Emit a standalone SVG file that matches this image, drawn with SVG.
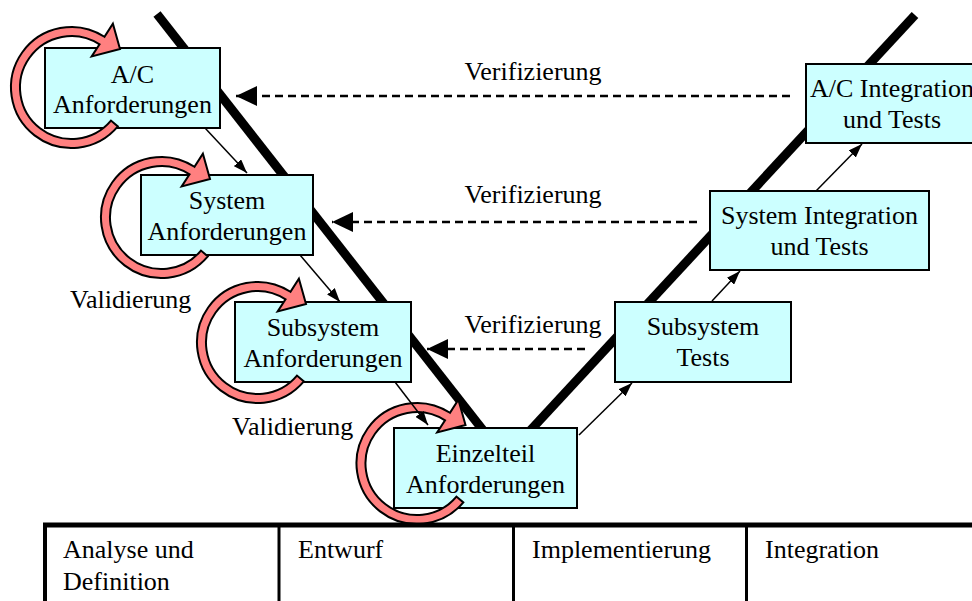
<svg xmlns="http://www.w3.org/2000/svg" width="972" height="601" viewBox="0 0 972 601">
  <style>
    .lbl { font-family: 'Liberation Serif', 'Times New Roman', serif; font-size: 26px; fill: #000; }
    .mid { text-anchor: middle; }
    .box { fill: #CCFFFF; stroke: #000; stroke-width: 2; }
    .vee { stroke: #000; stroke-width: 9; stroke-linecap: butt; fill: none; }
    .loop { fill: #FF8080; stroke: #000; stroke-width: 2; stroke-linejoin: miter; }
    .flow { stroke: #000; stroke-width: 1.5; fill: none; marker-end: url(#ah); }
    .verif { stroke: #000; stroke-width: 2.5; stroke-dasharray: 8 5; fill: none; marker-end: url(#dh); }
    .grid { stroke: #000; fill: none; }
  </style>
  <defs>
    <marker id="ah" markerWidth="14" markerHeight="10" refX="14" refY="5" orient="auto" markerUnits="userSpaceOnUse">
      <path d="M0,0 L14,5 L0,10 z" fill="#000"/>
    </marker>
    <marker id="dh" markerWidth="21" markerHeight="20" refX="21" refY="10" orient="auto" markerUnits="userSpaceOnUse">
      <path d="M0,0 L21,10 L0,20 z" fill="#000"/>
    </marker>
    <!-- circular validation arrow, centred on (0,0) -->
    <path id="loop" class="loop" d="M46.35,38.89 A60.5,60.5 0 1 1 32.95,-50.74 L41.39,-63.74 L48.5,-38.5 L20.15,-31.03 L28.05,-43.19 A51.5,51.5 0 1 0 39.45,33.10 Z"/>
  </defs>

  <!-- the V -->
  <g id="vee">
    <line class="vee" x1="157" y1="14" x2="486" y2="434"/>
    <line class="vee" x1="915" y1="15" x2="527" y2="434"/>
  </g>

  <!-- requirement nodes (left branch) -->
  <g id="ac-req">
    <rect class="box" x="45" y="48" width="175" height="80"/>
    <text class="lbl mid" x="132.5" y="83">A/C</text>
    <text class="lbl mid" x="132.5" y="113">Anforderungen</text>
  </g>
  <g id="sys-req">
    <rect class="box" x="141" y="175" width="172" height="80"/>
    <text class="lbl mid" x="227" y="209">System</text>
    <text class="lbl mid" x="227" y="240">Anforderungen</text>
  </g>
  <g id="sub-req">
    <rect class="box" x="235" y="302" width="176" height="80"/>
    <text class="lbl mid" x="323" y="336">Subsystem</text>
    <text class="lbl mid" x="323" y="367">Anforderungen</text>
  </g>
  <g id="part-req">
    <rect class="box" x="394" y="428" width="183" height="80"/>
    <text class="lbl mid" x="485.5" y="462">Einzelteil</text>
    <text class="lbl mid" x="485.5" y="493">Anforderungen</text>
  </g>

  <!-- integration nodes (right branch) -->
  <g id="sub-test">
    <rect class="box" x="615" y="302" width="176" height="80"/>
    <text class="lbl mid" x="703" y="335">Subsystem</text>
    <text class="lbl mid" x="703" y="366">Tests</text>
  </g>
  <g id="sys-int">
    <rect class="box" x="710" y="191" width="219" height="79"/>
    <text class="lbl mid" x="819.5" y="224">System Integration</text>
    <text class="lbl mid" x="819.5" y="255">und Tests</text>
  </g>
  <g id="ac-int">
    <rect class="box" x="806" y="64" width="172" height="79"/>
    <text class="lbl mid" x="892" y="97">A/C Integration</text>
    <text class="lbl mid" x="892" y="128">und Tests</text>
  </g>

  <!-- validation loops -->
  <g id="loops">
    <use href="#loop" x="71.5" y="87.5"/>
    <use href="#loop" x="161.5" y="217.5"/>
    <use href="#loop" x="257.5" y="342.5"/>
    <use href="#loop" x="417" y="463.5"/>
  </g>

  <!-- connectors -->
  <g id="connectors">
    <line class="flow" x1="205" y1="128" x2="247" y2="173"/>
    <line class="flow" x1="300" y1="255" x2="340" y2="302"/>
    <line class="flow" x1="395" y1="382" x2="428" y2="425"/>
    <line class="flow" x1="579" y1="435" x2="632" y2="383"/>
    <line class="flow" x1="712" y1="301" x2="740" y2="271"/>
    <line class="flow" x1="816" y1="191" x2="862" y2="144"/>
    <line class="verif" x1="790" y1="96" x2="236" y2="96"/>
    <line class="verif" x1="697" y1="222" x2="332" y2="222"/>
    <line class="verif" x1="585" y1="349" x2="427" y2="349"/>
  </g>

  <!-- labels -->
  <g id="labels">
    <text class="lbl mid" x="533" y="80">Verifizierung</text>
    <text class="lbl mid" x="533" y="203">Verifizierung</text>
    <text class="lbl mid" x="533" y="333">Verifizierung</text>
    <text class="lbl" x="70" y="308">Validierung</text>
    <text class="lbl" x="232" y="435">Validierung</text>
  </g>

  <!-- phase table -->
  <g id="phases">
    <line class="grid" x1="43" y1="525" x2="972" y2="525" stroke-width="5"/>
    <line class="grid" x1="45" y1="523" x2="45" y2="601" stroke-width="4"/>
    <line class="grid" x1="279" y1="523" x2="279" y2="601" stroke-width="3"/>
    <line class="grid" x1="513.5" y1="523" x2="513.5" y2="601" stroke-width="3"/>
    <line class="grid" x1="746.5" y1="523" x2="746.5" y2="601" stroke-width="3"/>
    <text class="lbl" x="63" y="558">Analyse und</text>
    <text class="lbl" x="63" y="590">Definition</text>
    <text class="lbl" x="298" y="558">Entwurf</text>
    <text class="lbl" x="532" y="558">Implementierung</text>
    <text class="lbl" x="765" y="558">Integration</text>
  </g>
</svg>
